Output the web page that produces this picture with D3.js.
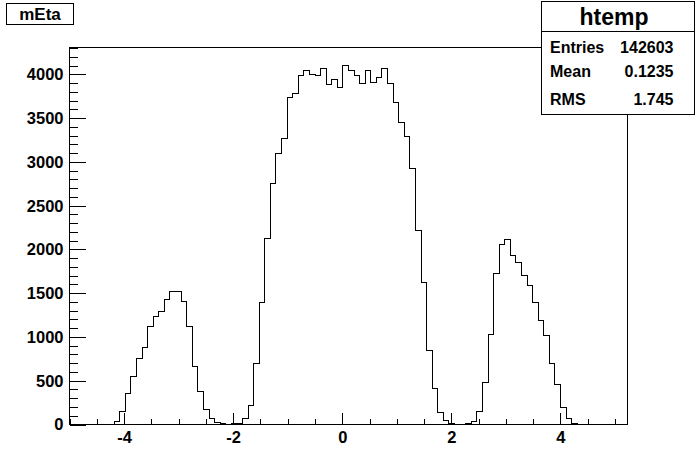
<!DOCTYPE html>
<html>
<head>
<meta charset="utf-8">
<script src="https://cdn.jsdelivr.net/npm/d3@7"></script>
<style>
  html, body { margin: 0; padding: 0; background: #fff; }
  svg { display: block; }
  text { font-family: "Liberation Sans", Arial, Helvetica, sans-serif; font-weight: bold; fill: #000; }
</style>
</head>
<body>
<svg id="chart" width="696" height="472"></svg>
<script>
// ---- data ----
const histName = "htemp";
const varName = "mEta";
const xMin = -5.0;
const xMax = 5.23;
const counts = [
  0, 0, 0, 0, 0, 0, 0, 0, 30, 149,
  354, 549, 754, 880, 1120, 1234, 1292, 1429, 1520, 1520,
  1406, 1120, 663, 380, 175, 72, 26, 7, 2, 8,
  8, 72, 217, 697, 1394, 2126, 2758, 3098, 3272, 3738,
  3783, 3989, 4046, 4004, 3993, 4069, 3886, 3943, 3852, 4103,
  4046, 3989, 3901, 4046, 3912, 3966, 4069, 3899, 3680, 3452,
  3295, 2926, 2221, 1623, 846, 412, 140, 46, 10, 0,
  2, 15, 35, 145, 476, 1025, 1730, 2054, 2111, 1935,
  1848, 1703, 1589, 1391, 1189, 1014, 694, 454, 194, 72,
  15, 0, 0, 0, 0, 0, 0, 0, 0, 0
];
const xMajorTicks = [-4, -2, 0, 2, 4];
const xMinorTicks = [-5, -4.5, -3.5, -3, -2.5, -1.5, -1, -0.5, 0.5, 1, 1.5, 2.5, 3, 3.5, 4.5, 5];
const yMajorTicks = [0, 500, 1000, 1500, 2000, 2500, 3000, 3500, 4000];
const yMinorTicks = d3.range(100, 4400, 100).filter(v => v % 500 !== 0);
const statLabels = ["Entries", "Mean", "RMS"];
const statValues = ["142603", "0.1235", "1.745"];

// ---- layout ----
const svg = d3.select("#chart");
const frame = { left: 69.5, right: 627.5, top: 47.5, bottom: 424.5 };
const yMax = 1.05 * d3.max(counts);

const x = d3.scaleLinear().domain([xMin, xMax]).range([frame.left, frame.right]);
const y = d3.scaleLinear().domain([0, yMax]).range([frame.bottom, frame.top]);

svg.append("rect").attr("width", 696).attr("height", 472).attr("fill", "#fff");

// histogram outline
const nb = counts.length;
const bw = (xMax - xMin) / nb;
const pts = [];
pts.push([x(xMin), y(0)]);
counts.forEach((c, i) => {
  pts.push([x(xMin + i * bw), y(c)]);
  pts.push([x(xMin + (i + 1) * bw), y(c)]);
});
pts.push([x(xMax), y(0)]);
svg.append("path")
  .attr("d", d3.line()(pts.map(p => [Math.round(p[0] - 0.5) + 0.5, Math.round(p[1] - 0.5) + 0.5])))
  .attr("fill", "none").attr("stroke", "#000").attr("stroke-width", 1)
  .attr("shape-rendering", "crispEdges");

// frame
svg.append("rect")
  .attr("x", frame.left).attr("y", frame.top)
  .attr("width", frame.right - frame.left).attr("height", frame.bottom - frame.top)
  .attr("fill", "none").attr("stroke", "#000").attr("stroke-width", 1)
  .attr("shape-rendering", "crispEdges");

// x axis
const gxMinor = svg.append("g").attr("transform", `translate(0,${frame.bottom})`)
  .call(d3.axisBottom(x).tickValues(xMinorTicks).tickSizeInner(-6).tickSizeOuter(0).tickFormat(""));
const gx = svg.append("g").attr("transform", `translate(0,${frame.bottom})`)
  .call(d3.axisBottom(x).tickValues(xMajorTicks).tickSizeInner(-11.5).tickSizeOuter(0).tickPadding(7).tickFormat(d3.format("d")));
// y axis
const gyMinor = svg.append("g").attr("transform", `translate(${frame.left},0)`)
  .call(d3.axisLeft(y).tickValues(yMinorTicks).tickSizeInner(-8).tickSizeOuter(0).tickFormat(""));
const gy = svg.append("g").attr("transform", `translate(${frame.left},0)`)
  .call(d3.axisLeft(y).tickValues(yMajorTicks).tickSizeInner(-16).tickSizeOuter(0).tickPadding(6).tickFormat(d3.format("d")));

[gxMinor, gx, gyMinor, gy].forEach(g => {
  g.select(".domain").remove();
  g.selectAll("line").attr("stroke", "#000").attr("shape-rendering", "crispEdges");
  g.selectAll("text").attr("font-size", 16.5).attr("font-family", null).attr("fill", "#000");
});
gx.selectAll("text").text(d => d < 0 ? "-" + Math.abs(d) : d);

// title box (variable name)
svg.append("rect").attr("x", 6.5).attr("y", 3.5).attr("width", 67).attr("height", 21)
  .attr("fill", "#fff").attr("stroke", "#000").attr("shape-rendering", "crispEdges");
svg.append("text").attr("x", 40).attr("y", 19.5).attr("text-anchor", "middle")
  .attr("font-size", 17).text(varName);

// stats box
const sb = { x: 541.5, y: 1.5, w: 153, h: 113 };
svg.append("rect").attr("x", sb.x).attr("y", sb.y).attr("width", sb.w).attr("height", sb.h)
  .attr("fill", "#fff").attr("stroke", "#000").attr("shape-rendering", "crispEdges");
svg.append("line").attr("x1", sb.x).attr("x2", sb.x + sb.w).attr("y1", 31.5).attr("y2", 31.5)
  .attr("stroke", "#000").attr("shape-rendering", "crispEdges");
svg.append("text").attr("x", sb.x + sb.w / 2 - 4).attr("y", 25).attr("text-anchor", "middle")
  .attr("font-size", 23).text(histName);
const rowY = [52.5, 77, 105];
statLabels.forEach((l, i) => {
  svg.append("text").attr("x", 550).attr("y", rowY[i]).attr("font-size", 16).text(l);
  svg.append("text").attr("x", 673.5).attr("y", rowY[i]).attr("text-anchor", "end").attr("font-size", 16).text(statValues[i]);
});
</script>
</body>
</html>
